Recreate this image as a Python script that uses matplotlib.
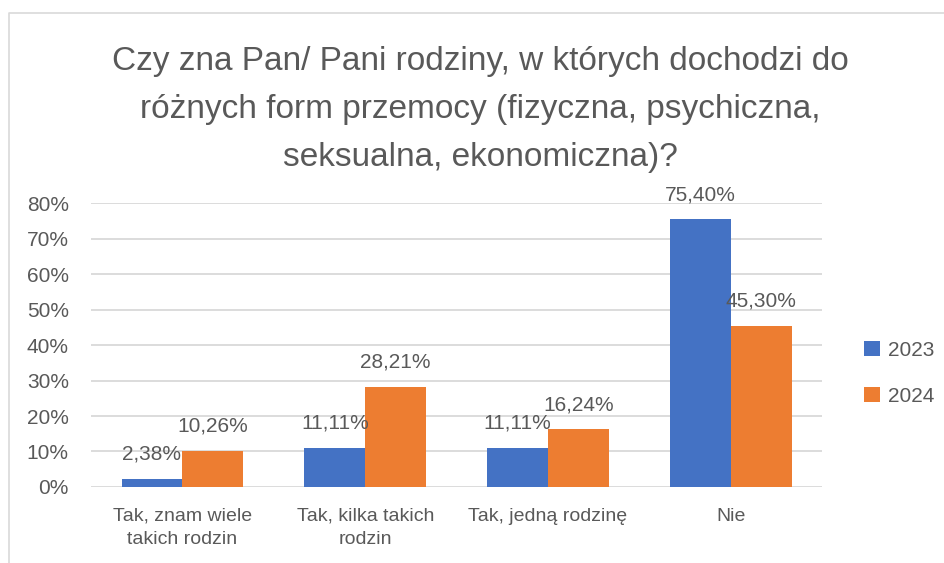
import numpy as np
import matplotlib.pyplot as plt
from matplotlib.lines import Line2D

plt.rcParams['font.family'] = ['Liberation Sans', 'DejaVu Sans']

categories = ["Tak, znam wiele\ntakich rodzin", "Tak, kilka takich\nrodzin",
              "Tak, jedną rodzinę", "Nie"]
years = ["2023", "2024"]
values_2023 = [2.38, 11.11, 11.11, 75.40]
values_2024 = [10.26, 28.21, 16.24, 45.30]
title = ("Czy zna Pan/ Pani rodziny, w których dochodzi do\n"
         "różnych form przemocy (fizyczna, psychiczna,\n"
         "seksualna, ekonomiczna)?")

blue = "#4472C4"
orange = "#ED7D31"
grey = "#595959"

fig = plt.figure(figsize=(9.44, 5.63), dpi=100)
ax = fig.add_axes([0.0964, 0.135, 0.7746, 0.5044])

x = np.arange(len(categories))
w = 0.333
b1 = ax.bar(x - w / 2, values_2023, w, color=blue, label=years[0], zorder=3)
b2 = ax.bar(x + w / 2, values_2024, w, color=orange, label=years[1], zorder=3)


def fmt(v):
    return f"{v:.2f}%".replace(".", ",")


for bars, vals in ((b1, values_2023), (b2, values_2024)):
    for r, v in zip(bars, vals):
        ax.annotate(fmt(v), (r.get_x() + r.get_width() / 2, v), xytext=(0, 11),
                    textcoords="offset points", ha="center", va="bottom",
                    fontsize=15, color=grey)

ax.set_xlim(-0.5, len(categories) - 0.5)
ax.set_ylim(0, 80)
ax.set_yticks(np.arange(0, 81, 10))
ax.set_yticklabels([f"{t}%" for t in range(0, 81, 10)])
ax.set_xticks(x)
ax.set_xticklabels(categories, linespacing=1.5)
ax.tick_params(axis="both", length=0, labelsize=14, colors=grey)
ax.tick_params(axis="y", pad=16, labelsize=15)
ax.tick_params(axis="x", pad=15)
ax.grid(axis="y", color="#D9D9D9", linewidth=1.3, zorder=0)
for s in ax.spines.values():
    s.set_visible(False)

fig.text(0.509, 0.918, title, ha="center", va="top", fontsize=24, color=grey,
         linespacing=1.7)

ax.legend(loc="center left", bbox_to_anchor=(1.032, 0.4), frameon=False,
          fontsize=15, labelcolor=grey, handlelength=0.75, handleheight=0.75,
          handletextpad=0.4, labelspacing=1.3)

fig.add_artist(Line2D([9 / 944, 9 / 944, 1.0], [0.0, 1 - 13 / 563, 1 - 13 / 563],
                      color="#D9D9D9", linewidth=1.2, transform=fig.transFigure))

fig.savefig("out.png", dpi=100)
